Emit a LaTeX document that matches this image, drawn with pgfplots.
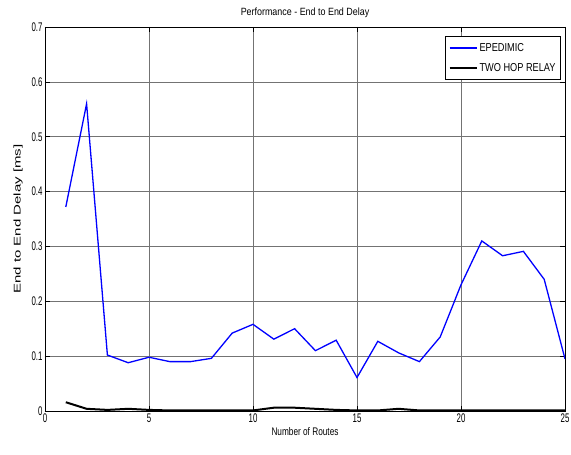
\documentclass[border=0pt]{standalone}
\usepackage{pgfplots}
\pgfplotsset{compat=1.18}
\usepackage{fontspec}
\setmainfont{Liberation Sans}
\newfontfamily\tickfont[FakeStretch=0.63]{Liberation Sans}
\newfontfamily\labfont[FakeStretch=0.75]{Liberation Sans}
\newfontfamily\titfont[FakeStretch=0.85]{Liberation Sans}
\newfontfamily\legfont[FakeStretch=0.8]{Liberation Sans}

\definecolor{matblue}{RGB}{0,0,255}

\begin{document}
\begin{tikzpicture}
\begin{axis}[
  scale only axis,
  width=520pt, height=384pt,
  xmin=0, xmax=25, ymin=0, ymax=0.7,
  xtick={0,5,...,25},
  ytick={0,0.1,...,0.7},
  /pgf/number format/assume math mode=true,
  /pgf/number format/fixed,
  tick label style={font=\tickfont\fontsize{12.5}{13}\selectfont},
  yticklabel style={xshift=1pt},
  xticklabel style={yshift=1pt},
  tick align=inside,
  major tick length=5pt,
  axis line style={line width=0.9pt},
  every tick/.style={black, line width=0.6pt},
  grid=major,
  major grid style={line width=0.6pt, color=black!55},
  title={\titfont\fontsize{10.5}{12}\selectfont Performance - End to End Delay},
  xlabel={\labfont\fontsize{11}{12}\selectfont Number of Routes},
  xlabel style={yshift=2pt},
  ylabel={\scalebox{1}[0.65]{\fontsize{15}{16}\selectfont End to End Delay [ms]}},
  ylabel style={yshift=2pt},
  legend style={
    at={(1,1)}, anchor=north east, xshift=-4pt, yshift=-9pt,
    font=\legfont\fontsize{11.5}{12}\selectfont,
    draw=black, line width=0.9pt,
    row sep=6pt, inner xsep=3pt, inner ysep=5pt,
    cells={anchor=west},
  },
  legend image code/.code={%
    \draw[mark repeat=2,mark phase=2,#1]
      plot coordinates {(0pt,0pt) (13pt,0pt) (27pt,0pt)};},
]
\addplot[matblue, line width=1.3pt,
  legend image post style={line width=1.5pt}] coordinates {
  (1,0.372) (2,0.560) (3,0.102) (4,0.088) (5,0.098) (6,0.090) (7,0.090)
  (8,0.096) (9,0.142) (10,0.158) (11,0.131) (12,0.150) (13,0.110)
  (14,0.129) (15,0.061) (16,0.127) (17,0.106) (18,0.090) (19,0.135)
  (20,0.230) (21,0.310) (22,0.283) (23,0.291) (24,0.240) (25,0.095)
};
\addlegendentry{EPEDIMIC}
\addplot[black, line width=2pt,
  legend image post style={line width=2pt}] coordinates {
  (1,0.016) (2,0.004) (3,0.002) (4,0.004) (5,0.002) (6,0.001) (7,0.001)
  (8,0.001) (9,0.001) (10,0.001) (11,0.006) (12,0.006) (13,0.004)
  (14,0.002) (15,0.001) (16,0.001) (17,0.004) (18,0.001) (19,0.001)
  (20,0.001) (21,0.001) (22,0.001) (23,0.001) (24,0.001) (25,0.001)
};
\addlegendentry{TWO HOP RELAY}
\end{axis}
\pgfresetboundingbox
\useasboundingbox ([shift={(-45pt,-43pt)}]current axis.south west)
  rectangle ([shift={(6pt,27pt)}]current axis.north east);
\end{tikzpicture}
\end{document}
